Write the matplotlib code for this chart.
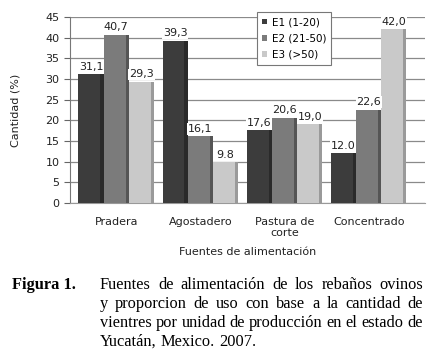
import numpy as np
import matplotlib.pyplot as plt

categorias = ['Pradera', 'Agostadero', 'Pastura de\ncorte', 'Concentrado']
series = ['E1 (1-20)', 'E2 (21-50)', 'E3 (>50)']
e1 = [31.1, 39.3, 17.6, 12.0]
e2 = [40.7, 16.1, 20.6, 22.6]
e3 = [29.3, 9.8, 19.0, 42.0]
etiquetas = [['31,1', '39,3', '17,6', '12.0'],
             ['40,7', '16,1', '20,6', '22,6'],
             ['29,3', '9.8', '19,0', '42,0']]
colores = ['#3c3c3c', '#7b7b7b', '#c9c9c9']
lados = ['#2a2a2a', '#555555', '#9a9a9a']

fig = plt.figure(figsize=(4.29, 3.54), dpi=100)
ax = fig.add_axes([70 / 429, 1 - 203 / 354, 355 / 429, 186 / 354])

x = np.arange(len(categorias))
w = 0.30
for i, vals in enumerate([e1, e2, e3]):
    pos = x + (i - 1) * w
    ax.bar(pos, vals, w, color=colores[i], label=series[i], zorder=3)
    # borde lateral oscuro (efecto 3D)
    ax.bar(pos + w / 2 - 0.02, vals, 0.04, color=lados[i], zorder=3)
    for p, v, t in zip(pos, vals, etiquetas[i]):
        ax.text(p, v + 0.6, t, ha='center', va='bottom', fontsize=8,
                color='#222222', zorder=4,
                bbox=dict(facecolor='white', edgecolor='none', pad=0.5))

ax.set_ylim(0, 45)
ax.set_yticks(np.arange(0, 46, 5))
ax.set_xlim(-0.55, 3.67)
ax.set_xticks(x)
ax.set_xticklabels(categorias, fontsize=8, color='#222222')
ax.tick_params(axis='y', labelsize=8, colors='#222222', length=4,
               color='#666666')
ax.tick_params(axis='x', length=0, pad=10)
ax.yaxis.grid(True, color='#8a8a8a', linewidth=0.9, zorder=0)
for s in ['top', 'right']:
    ax.spines[s].set_visible(False)
ax.spines['left'].set_color('#777777')
ax.spines['bottom'].set_color('#999999')
ax.set_ylabel('Cantidad (%)', fontsize=8, color='#222222', labelpad=18)
ax.set_xlabel('Fuentes de alimentación', fontsize=8, color='#222222',
              labelpad=6)

leg = ax.legend(loc='upper left', bbox_to_anchor=(257 / 429, 1 - 12 / 354),
                bbox_transform=fig.transFigure, fontsize=7.5,
                handlelength=0.5, handleheight=0.5, handletextpad=0.4,
                borderpad=0.5, labelspacing=0.6, fancybox=False,
                framealpha=1, borderaxespad=0)
leg.get_frame().set_edgecolor('#777777')
leg.get_frame().set_linewidth(0.8)

# pie de figura
fig.text(12 / 429, 1 - 285 / 354, 'Figura 1.', family='Liberation Serif',
         fontweight='bold', fontsize=11.8, va='center')
lineas = ['Fuentes de alimentación de los rebaños ovinos',
          'y proporcion de uso con base a la cantidad de',
          'vientres por unidad de producción en el estado de',
          'Yucatán, Mexico. 2007.']
ys = [285, 304, 323, 342]
x0, x1 = 100, 423
fig.canvas.draw()
r = fig.canvas.get_renderer()
for k, (linea, yy) in enumerate(zip(lineas, ys)):
    palabras = linea.split(' ')
    objs = [fig.text(0, 1 - yy / 354, p, family='Liberation Serif',
                     fontsize=11.8, va='center') for p in palabras]
    anchos = [o.get_window_extent(r).width for o in objs]
    if k < len(lineas) - 1:
        esp = (x1 - x0 - sum(anchos)) / (len(palabras) - 1)
    else:
        esp = 4
    pos = x0
    for o, a in zip(objs, anchos):
        o.set_x(pos / 429)
        pos += a + esp

fig.savefig('out.png', dpi=100)
